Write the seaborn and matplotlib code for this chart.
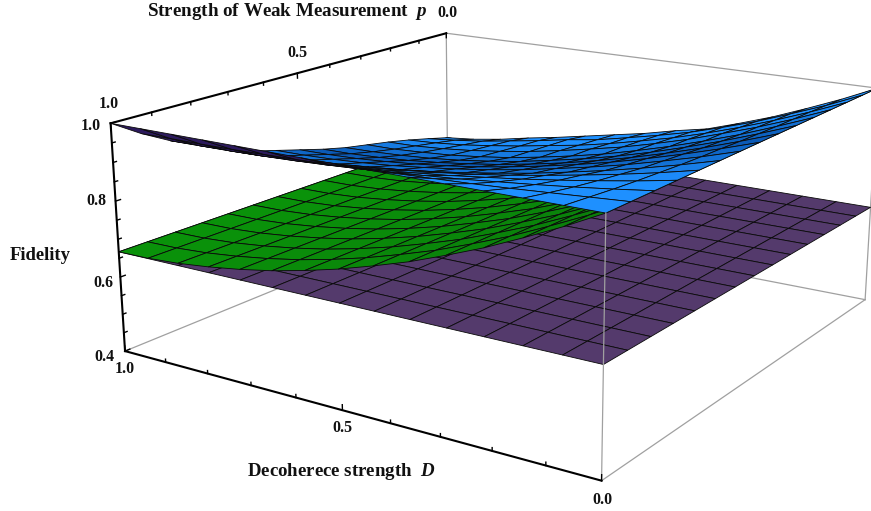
import numpy as np
import matplotlib
matplotlib.use("Agg")
import matplotlib.pyplot as plt
import seaborn as sns
from mpl_toolkits.mplot3d import proj3d
from matplotlib.colors import to_rgb

sns.set_theme(style="white")
SERIF = "Liberation Serif"
plt.rcParams["font.family"] = [SERIF, "DejaVu Serif"]
plt.rcParams["mathtext.fontset"] = "custom"
plt.rcParams["mathtext.it"] = f"{SERIF}:italic:bold"
plt.rcParams["mathtext.rm"] = f"{SERIF}:bold"

# grid of both parameters
decoherence = [i / 14 for i in range(15)]
weak = [j / 14 for j in range(15)]
classical_limit = 0.667
# fidelity without reversal: one value per D (same along p)
green_by_D = [1.0, .954, .912, .872, .837, .804, .776, .75, .728, .709, .694, .682, .673, .668, .667]
# fidelity with weak measurement: rows D, columns p
blue_rows = [
 [1.0] * 15,
 [.957,.959,.961,.962,.963,.965,.967,.970,.972,.975,.979,.983,.988,.994,1.0],
 [.918,.923,.925,.927,.928,.932,.936,.942,.947,.952,.960,.968,.977,.988,1.0],
 [.881,.888,.892,.896,.897,.902,.908,.916,.923,.931,.943,.954,.967,.982,1.0],
 [.849,.858,.862,.866,.868,.874,.882,.892,.902,.912,.927,.941,.958,.977,1.0],
 [.819,.830,.835,.840,.842,.849,.859,.871,.883,.894,.912,.930,.949,.973,1.0],
 [.80,.807,.812,.816,.818,.827,.838,.852,.865,.879,.899,.919,.942,.969,1.0],
 [.778,.786,.79,.796,.798,.808,.82,.835,.85,.865,.888,.910,.935,.965,1.0],
 [.76,.766,.771,.777,.78,.79,.804,.82,.837,.853,.878,.902,.929,.962,1.0],
 [.742,.752,.756,.76,.764,.776,.791,.808,.826,.843,.869,.895,.924,.959,1.0],
 [.724,.735,.74,.746,.752,.764,.78,.798,.816,.835,.862,.890,.920,.957,1.0],
 [.708,.72,.727,.734,.742,.755,.771,.79,.809,.828,.857,.886,.917,.955,1.0],
 [.69,.705,.715,.725,.736,.749,.765,.784,.804,.824,.853,.882,.915,.954,1.0],
 [.676,.694,.707,.719,.731,.745,.761,.781,.801,.821,.851,.881,.914,.954,1.0],
 [.667,.685,.702,.717,.73,.743,.76,.78,.8,.82,.85,.88,.913,.953,1.0],
]
ticks_minor_z = [.45, .5, .55, .65, .7, .75, .85, .9, .95]
ticks_major_z = [.4, .6, .8, 1.0]
ticks_xy = [.1, .2, .3, .4, .6, .7, .8, .9]
ticks_xy_major = [0.0, .5, 1.0]

W, H = 871, 511
fig = plt.figure(figsize=(W / 100, H / 100), dpi=100, facecolor="white")
ax = fig.add_subplot(projection="3d")
ax.set_xlim(0, 1); ax.set_ylim(0, 1); ax.set_zlim(.4, 1)
ax.view_init(16.48, 123.54, -0.0276)
ax.set_proj_type("persp", focal_length=0.43356)
ax.set_box_aspect((2.3677, 2.3809, 1))
ax.set_axis_off()
ax.computed_zorder = False
ax.patch.set_alpha(0)
s, cx, cy = 4203.63, 509.92, 294.37
x0, x1 = -0.95 / 10, 0.9 / 10
ax.set_position([(cx + s * x0) / W, (cy + s * x0) / H, s * (x1 - x0) / W, s * (x1 - x0) / H])

Dg, Pg = np.meshgrid(decoherence, weak, indexing="ij")
Zb = np.array(blue_rows)
Zg = np.repeat(np.array(green_by_D)[:, None], 15, axis=1)
Zp = np.full_like(Zb, classical_limit)

# cells seen from below
M = ax.get_proj()
u, v, _ = proj3d.proj_transform(Dg.ravel(), Pg.ravel(), Zb.ravel(), M)
u = u.reshape(Dg.shape); v = v.reshape(Dg.shape)
area = ((u[1:, 1:] - u[:-1, :-1]) * (v[:-1, 1:] - v[1:, :-1]) -
        (u[:-1, 1:] - u[1:, :-1]) * (v[1:, 1:] - v[:-1, :-1]))
top_sign = np.sign(np.median(area))

dark, light = np.array(to_rgb("#0a58b4")), np.array(to_rgb("#1e90ff"))
pc = (Pg[:-1, :-1] + Pg[1:, 1:]) / 2
Dc = (Dg[:-1, :-1] + Dg[1:, 1:]) / 2
w = np.clip(np.abs(pc - .45) * 3.0, 0, 1)[..., None]
fc_b = dark * (1 - w) + light * w
fc_b[area * top_sign < 0] = to_rgb("#2c1a5c")
fc_b = np.dstack([fc_b, np.ones(fc_b.shape[:2])])
g0, g1 = np.array(to_rgb("#0a7d0a")), np.array(to_rgb("#0a930a"))
fc_g = g0 * (1 - Dc[..., None]) + g1 * Dc[..., None]
fc_g = np.dstack([fc_g, np.ones(fc_g.shape[:2])])
fc_p = np.tile(np.array(to_rgb("#543a6c") + (1,)), (14, 14, 1))

GREY = "#a0a0a0"
def line(a, b, c, color=GREY, lw=.9, z=1):
    ax.plot(a, b, c, color=color, lw=lw, zorder=z, clip_on=False, solid_capstyle="projecting")

# back box edges
line([1, 1], [0, 0], [.4, 1]); line([0, 0], [0, 0], [.4, 1])
line([1, 1], [1, 0], [.4, .4]); line([1, 0], [0, 0], [.4, .4]); line([0, 0], [1, 0], [.4, .4])
line([1, 0], [0, 0], [1, 1])

for zo, Z, fc, lw in ((2, Zp, fc_p, .6), (3, Zg, fc_g, .6), (4, Zb, fc_b, .6)):
    surf = ax.plot_surface(Dg, Pg, Z, rstride=1, cstride=1, facecolors=fc, shade=False,
                           antialiased=True, zorder=zo)
    surf.set_edgecolor("#0a0a0a")
    surf.set_linewidth(lw)
    surf.set_clip_on(False)

# front grey edge and black axes
line([0, 0], [1, 1], [.4, 1], z=6)
BL = "black"
line([1, 1], [1, 1], [.4, 1], BL, 1.5, 7)
line([1, 0], [1, 1], [.4, .4], BL, 1.5, 7)
line([1, 1], [1, 0], [1, 1], BL, 1.5, 7)
for z_, L in [(t, .008) for t in ticks_minor_z] + [(t, .012) for t in ticks_major_z]:
    line([1, 1], [1, 1 - L], [z_, z_], BL, 1.0, 7)
for t, L in [(t, .008) for t in ticks_xy] + [(t, .014) for t in ticks_xy_major]:
    line([t, t], [1, 1], [.4, .4 + L], BL, 1.0, 7)
    line([1, 1], [t, t], [1, 1 - L], BL, 1.0, 7)

def label(px, py, txt, size=11.4):
    fig.text(px / W, 1 - py / H, txt, ha="center", va="center", fontsize=size,
             fontweight="bold", color="#111111")

for px, py, t in [(125, 369, "1.0"), (342, 428, "0.5"), (602, 500, "0.0"),
                  (104, 357, "0.4"), (103, 283, "0.6"), (96, 201, "0.8"), (91, 126, "1.0"),
                  (109, 104, "1.0"), (297, 53, "0.5"), (447, 13, "0.0")]:
    label(px, py, t)
label(287, 11, r"Strength of Weak Measurement  $\mathit{p}$", 13.7)
label(341, 471, r"Decoherece strength  $\mathit{D}$", 13.6)
label(40, 255, "Fidelity", 13.4)

fig.savefig("out.png", dpi=100)
